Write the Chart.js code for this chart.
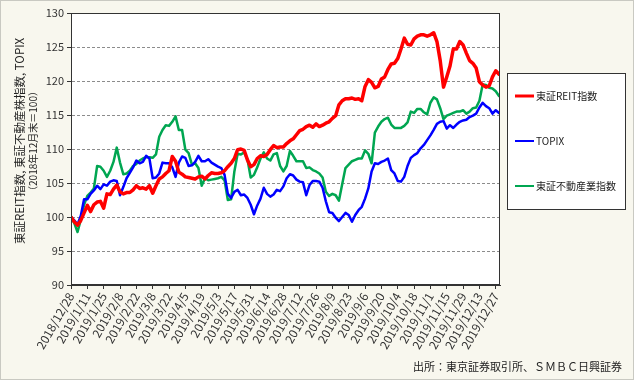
<!DOCTYPE html>
<html><head><meta charset="utf-8">
<script src="https://cdn.jsdelivr.net/npm/chart.js@4/dist/chart.umd.min.js"></script>
<style>html,body{margin:0;padding:0;background:#f8f7ee;}canvas{display:block;}</style>
</head><body>
<canvas id="c" width="634" height="380"></canvas>
<script>
const tickLabels = ['2018/12/28','2019/1/11','2019/1/25','2019/2/8','2019/2/22','2019/3/8','2019/3/22','2019/4/5','2019/4/19','2019/5/3','2019/5/17','2019/5/31','2019/6/14','2019/6/28','2019/7/12','2019/7/26','2019/8/9','2019/8/23','2019/9/6','2019/9/20','2019/10/4','2019/10/18','2019/11/1','2019/11/15','2019/11/29','2019/12/13','2019/12/27'];
const seriesNames = ['東証REIT指数','TOPIX','東証不動産業指数'];
const reit = [100,99.3,98.8,99.5,100.6,101.7,100.8,101.8,102.2,102.3,101.3,103.4,103.3,104.1,104.7,103.7,103.4,103.6,103.6,104.0,104.6,104.2,104.3,104.1,104.6,103.5,104.6,105.6,105.9,106.4,106.8,108.9,108.2,106.6,106.3,105.9,105.8,105.7,105.6,105.9,106.0,105.6,106.1,106.5,106.4,106.4,106.5,106.8,107.4,107.9,108.6,109.9,110.0,109.8,108.4,107.4,107.7,108.6,109.0,108.9,109.2,109.9,110.5,110.2,110.3,110.3,110.8,111.2,111.5,112.1,112.7,112.9,113.3,113.5,113.2,113.7,113.3,113.5,113.8,114.0,114.5,114.9,116.5,117.1,117.4,117.4,117.5,117.3,117.4,117.1,119.2,120.2,119.8,119.0,119.2,120.3,120.6,121.7,122.5,122.6,123.3,124.7,126.3,125.4,125.3,126.2,126.6,126.8,126.8,126.6,126.8,127.1,125.8,123.0,119.1,120.6,122.2,124.7,124.7,125.8,125.3,124.1,123.0,122.6,121.9,119.9,119.4,119.1,119.3,120.6,121.5,121.0];
const topix = [100,99.5,98.9,100.2,102.6,102.6,103.4,103.9,104.6,104.1,104.8,104.6,105.2,105.4,105.3,103.2,104.4,105.7,106.5,107.3,108.3,107.9,108.1,109.0,108.6,105.7,105.8,106.4,108.0,107.9,107.9,107.3,105.9,108.0,108.9,108.7,107.5,107.6,108.1,109.0,108.2,108.2,108.5,108.0,107.7,107.4,107.2,106.2,103.4,102.8,103.7,104.0,103.2,103.3,102.8,101.8,100.4,101.7,102.7,104.3,103.4,103.0,103.3,104.0,103.8,104.5,105.7,106.3,106.1,105.5,105.2,105.1,103.2,104.7,105.3,105.3,105.2,104.3,102.3,100.7,100.6,99.9,99.4,100.0,100.6,100.3,99.3,100.3,101.0,101.5,102.7,104.2,106.7,107.9,107.8,108.1,108.3,108.6,106.9,106.4,105.3,105.2,105.9,107.5,108.7,109.1,109.4,110.1,110.6,111.3,112.0,112.8,113.7,114.0,114.1,113.0,113.5,113.1,113.6,114.0,114.2,114.3,114.7,114.9,115.2,116.1,116.8,116.3,116.0,115.2,115.7,115.3];
const realEstate = [100,99.1,97.8,99.6,101.8,103.1,103.6,104.2,107.5,107.4,106.8,105.9,106.8,108.1,110.2,108.0,106.3,106.4,106.8,107.5,107.8,108.3,108.6,108.8,108.8,108.7,109.2,111.8,112.8,113.5,113.4,114.0,114.8,112.8,112.8,109.9,109.4,107.7,107.9,107.2,104.6,105.7,105.4,105.5,105.6,105.7,105.9,105.4,102.5,102.6,106.7,109.3,109.2,109.5,108.5,105.8,106.2,107.3,108.6,109.5,108.6,108.3,109.2,109.4,107.5,106.7,107.5,109.7,109.0,108.2,108.2,108.2,107.2,107.3,106.9,106.7,106.4,105.8,103.7,103.1,103.4,103.2,102.4,104.8,107.2,107.7,108.2,108.4,108.6,108.6,109.8,109.3,107.9,112.4,113.3,114.0,114.4,114.6,113.6,113.1,113.1,113.1,113.4,113.9,115.5,115.3,115.9,115.9,115.4,115.1,116.8,117.6,117.3,116.0,114.4,114.9,115.1,115.3,115.5,115.5,115.7,115.2,115.5,116.0,116.1,117.1,119.5,119.4,119.0,118.9,118.5,117.8];
const yTitle = '東証REIT指数, 東証不動産株指数, TOPIX';
const ySubTitle = '（2018年12月末＝100）';
const sourceText = '出所：東京証券取引所、ＳＭＢＣ日興証券';

const FONT = '"Noto Sans CJK JP", "Noto Sans", sans-serif';
const toPts = arr => arr.map((v, i) => ({x: i, y: v}));

const decor = {
  id: 'decor',
  beforeDraw(chart) {
    const ctx = chart.ctx, a = chart.chartArea;
    ctx.save();
    ctx.fillStyle = '#f8f7ee';
    ctx.fillRect(0, 0, chart.width, chart.height);
    ctx.strokeStyle = '#c9c9c2';
    ctx.lineWidth = 1;
    ctx.strokeRect(0.5, 0.5, chart.width - 1, chart.height - 1);
    ctx.fillStyle = '#ffffff';
    ctx.fillRect(a.left, a.top, a.right - a.left, a.bottom - a.top);
    ctx.restore();
  },
  afterDraw(chart) {
    const ctx = chart.ctx, a = chart.chartArea;
    ctx.save();
    ctx.strokeStyle = '#333';
    ctx.lineWidth = 1;
    ctx.strokeRect(Math.round(a.left) + 0.5, Math.round(a.top) + 0.5, Math.round(a.right - a.left) - 1, Math.round(a.bottom - a.top) - 1);
    ctx.fillStyle = '#222';
    ctx.textAlign = 'center';
    ctx.textBaseline = 'middle';
    ctx.translate(20, 141);
    ctx.rotate(-Math.PI / 2);
    ctx.font = '11.5px ' + FONT;
    ctx.fillText(yTitle, 0, 0);
    ctx.font = '10px ' + FONT;
    ctx.fillText(ySubTitle, 0, 13);
    ctx.restore();
    ctx.save();
    ctx.fillStyle = '#fff';
    ctx.fillRect(507.5, 73.5, 118, 136);
    ctx.strokeStyle = '#333';
    ctx.lineWidth = 1;
    ctx.strokeRect(507.5, 73.5, 118, 136);
    const ys = [96, 141, 186];
    chart.data.datasets.forEach((ds, k) => {
      ctx.strokeStyle = ds.borderColor;
      ctx.lineWidth = k === 0 ? 3 : 2;
      ctx.beginPath();
      ctx.moveTo(515, ys[k]);
      ctx.lineTo(534, ys[k]);
      ctx.stroke();
      ctx.fillStyle = '#222';
      ctx.font = '10px ' + FONT;
      ctx.textAlign = 'left';
      ctx.textBaseline = 'middle';
      ctx.fillText(ds.label, 536, ys[k]);
    });
    ctx.font = '11px ' + FONT;
    ctx.textAlign = 'right';
    ctx.textBaseline = 'middle';
    ctx.fillStyle = '#222';
    ctx.fillText(sourceText, 622, 367);
    ctx.restore();
  }
};

const zeroPad = s => { s.paddingLeft = 0; s.paddingRight = 0; s.paddingTop = 0; s.paddingBottom = 0; };

new Chart(document.getElementById('c'), {
  type: 'line',
  data: {
    datasets: [
      {label: seriesNames[0], data: toPts(reit), borderColor: '#ff0000', borderWidth: 3.5},
      {label: seriesNames[1], data: toPts(topix), borderColor: '#0000ff', borderWidth: 2.5},
      {label: seriesNames[2], data: toPts(realEstate), borderColor: '#00a651', borderWidth: 2.5}
    ]
  },
  options: {
    responsive: false,
    animation: false,
    events: [],
    elements: {point: {radius: 0}, line: {tension: 0, borderJoinStyle: 'round', borderCapStyle: 'round'}},
    layout: {padding: {left: 0, top: 13, right: 134, bottom: 0}},
    plugins: {legend: {display: false}, tooltip: {enabled: false}},
    scales: {
      x: {
        type: 'linear',
        min: 0,
        max: 131.3,
        afterBuildTicks: s => { s.ticks = tickLabels.map((_, k) => ({value: k * 5})); },
        afterFit: s => { s.height = 95; zeroPad(s); },
        ticks: {
          autoSkip: false,
          minRotation: 60,
          maxRotation: 60,
          padding: 1,
          color: '#333',
          font: {family: FONT, size: 12},
          callback: v => tickLabels[Math.round(v / 5)]
        },
        grid: {drawOnChartArea: false, drawTicks: true, tickLength: 4, tickColor: '#333'},
        border: {color: '#333'}
      },
      y: {
        min: 90,
        max: 130,
        afterBuildTicks: s => { const t = []; for (let v = 90; v <= 130; v += 5) t.push({value: v}); s.ticks = t; },
        afterFit: s => { s.width = 71; zeroPad(s); },
        ticks: {color: '#333', padding: 3, font: {family: FONT, size: 11}},
        grid: {color: '#8c8c8c', lineWidth: 1, tickLength: 4, tickColor: '#333'},
        border: {color: '#333', dash: [3, 2]}
      }
    }
  },
  plugins: [decor]
});
</script>
</body></html>
